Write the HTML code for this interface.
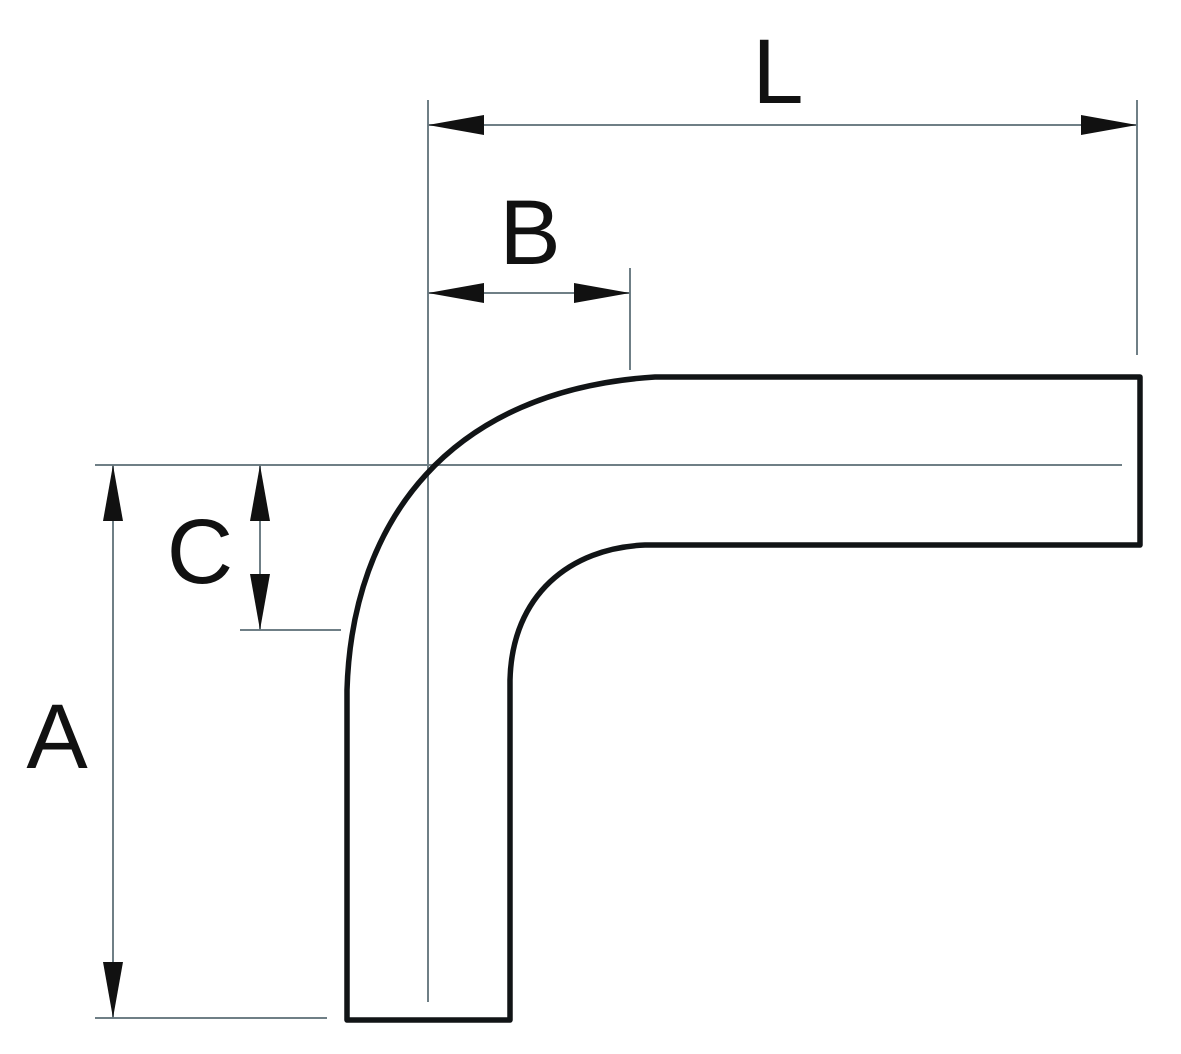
<!DOCTYPE html>
<html><head><meta charset="utf-8"><style>
html,body{margin:0;padding:0;background:#fff;}
svg{display:block;}
text{font-family:"Liberation Sans",sans-serif;fill:#111;}
</style></head><body>
<svg width="1181" height="1054" viewBox="0 0 1181 1054" xmlns="http://www.w3.org/2000/svg">
<g stroke="#6f7f86" stroke-width="2" fill="none">
<line x1="428" y1="100" x2="428" y2="1002"/>
<line x1="1137" y1="100" x2="1137" y2="355"/>
<line x1="630" y1="268" x2="630" y2="370"/>
<line x1="428" y1="125" x2="1137" y2="125"/>
<line x1="428" y1="293" x2="630" y2="293"/>
<line x1="95" y1="465" x2="1122" y2="465"/>
<line x1="113" y1="465" x2="113" y2="1018"/>
<line x1="95" y1="1018" x2="327" y2="1018"/>
<line x1="260" y1="465" x2="260" y2="630"/>
<line x1="240" y1="630" x2="341" y2="630"/>
</g>
<g fill="#111">
<polygon points="428,125 484,115 484,135"/>
<polygon points="1137,125 1081,115 1081,135"/>
<polygon points="428,293 484,283 484,303"/>
<polygon points="630,293 574,283 574,303"/>
<polygon points="113,465 103,521 123,521"/>
<polygon points="113,1018 103,962 123,962"/>
<polygon points="260,465 250,521 270,521"/>
<polygon points="260,630 250,574 270,574"/>
</g>
<path d="M347,1020 L347,690 C352,520 450,390 655,377 L1140,377 L1140,545 L645,545 C570,548 512,595 510,680 L510,1020 Z" fill="none" stroke="#111416" stroke-width="5.5" stroke-linejoin="round"/>
<text x="778" y="103" font-size="92" text-anchor="middle">L</text>
<text x="530" y="264" font-size="92" text-anchor="middle">B</text>
<text x="200" y="583" font-size="92" text-anchor="middle">C</text>
<text x="57" y="768" font-size="92" text-anchor="middle">A</text>
</svg>
</body></html>
